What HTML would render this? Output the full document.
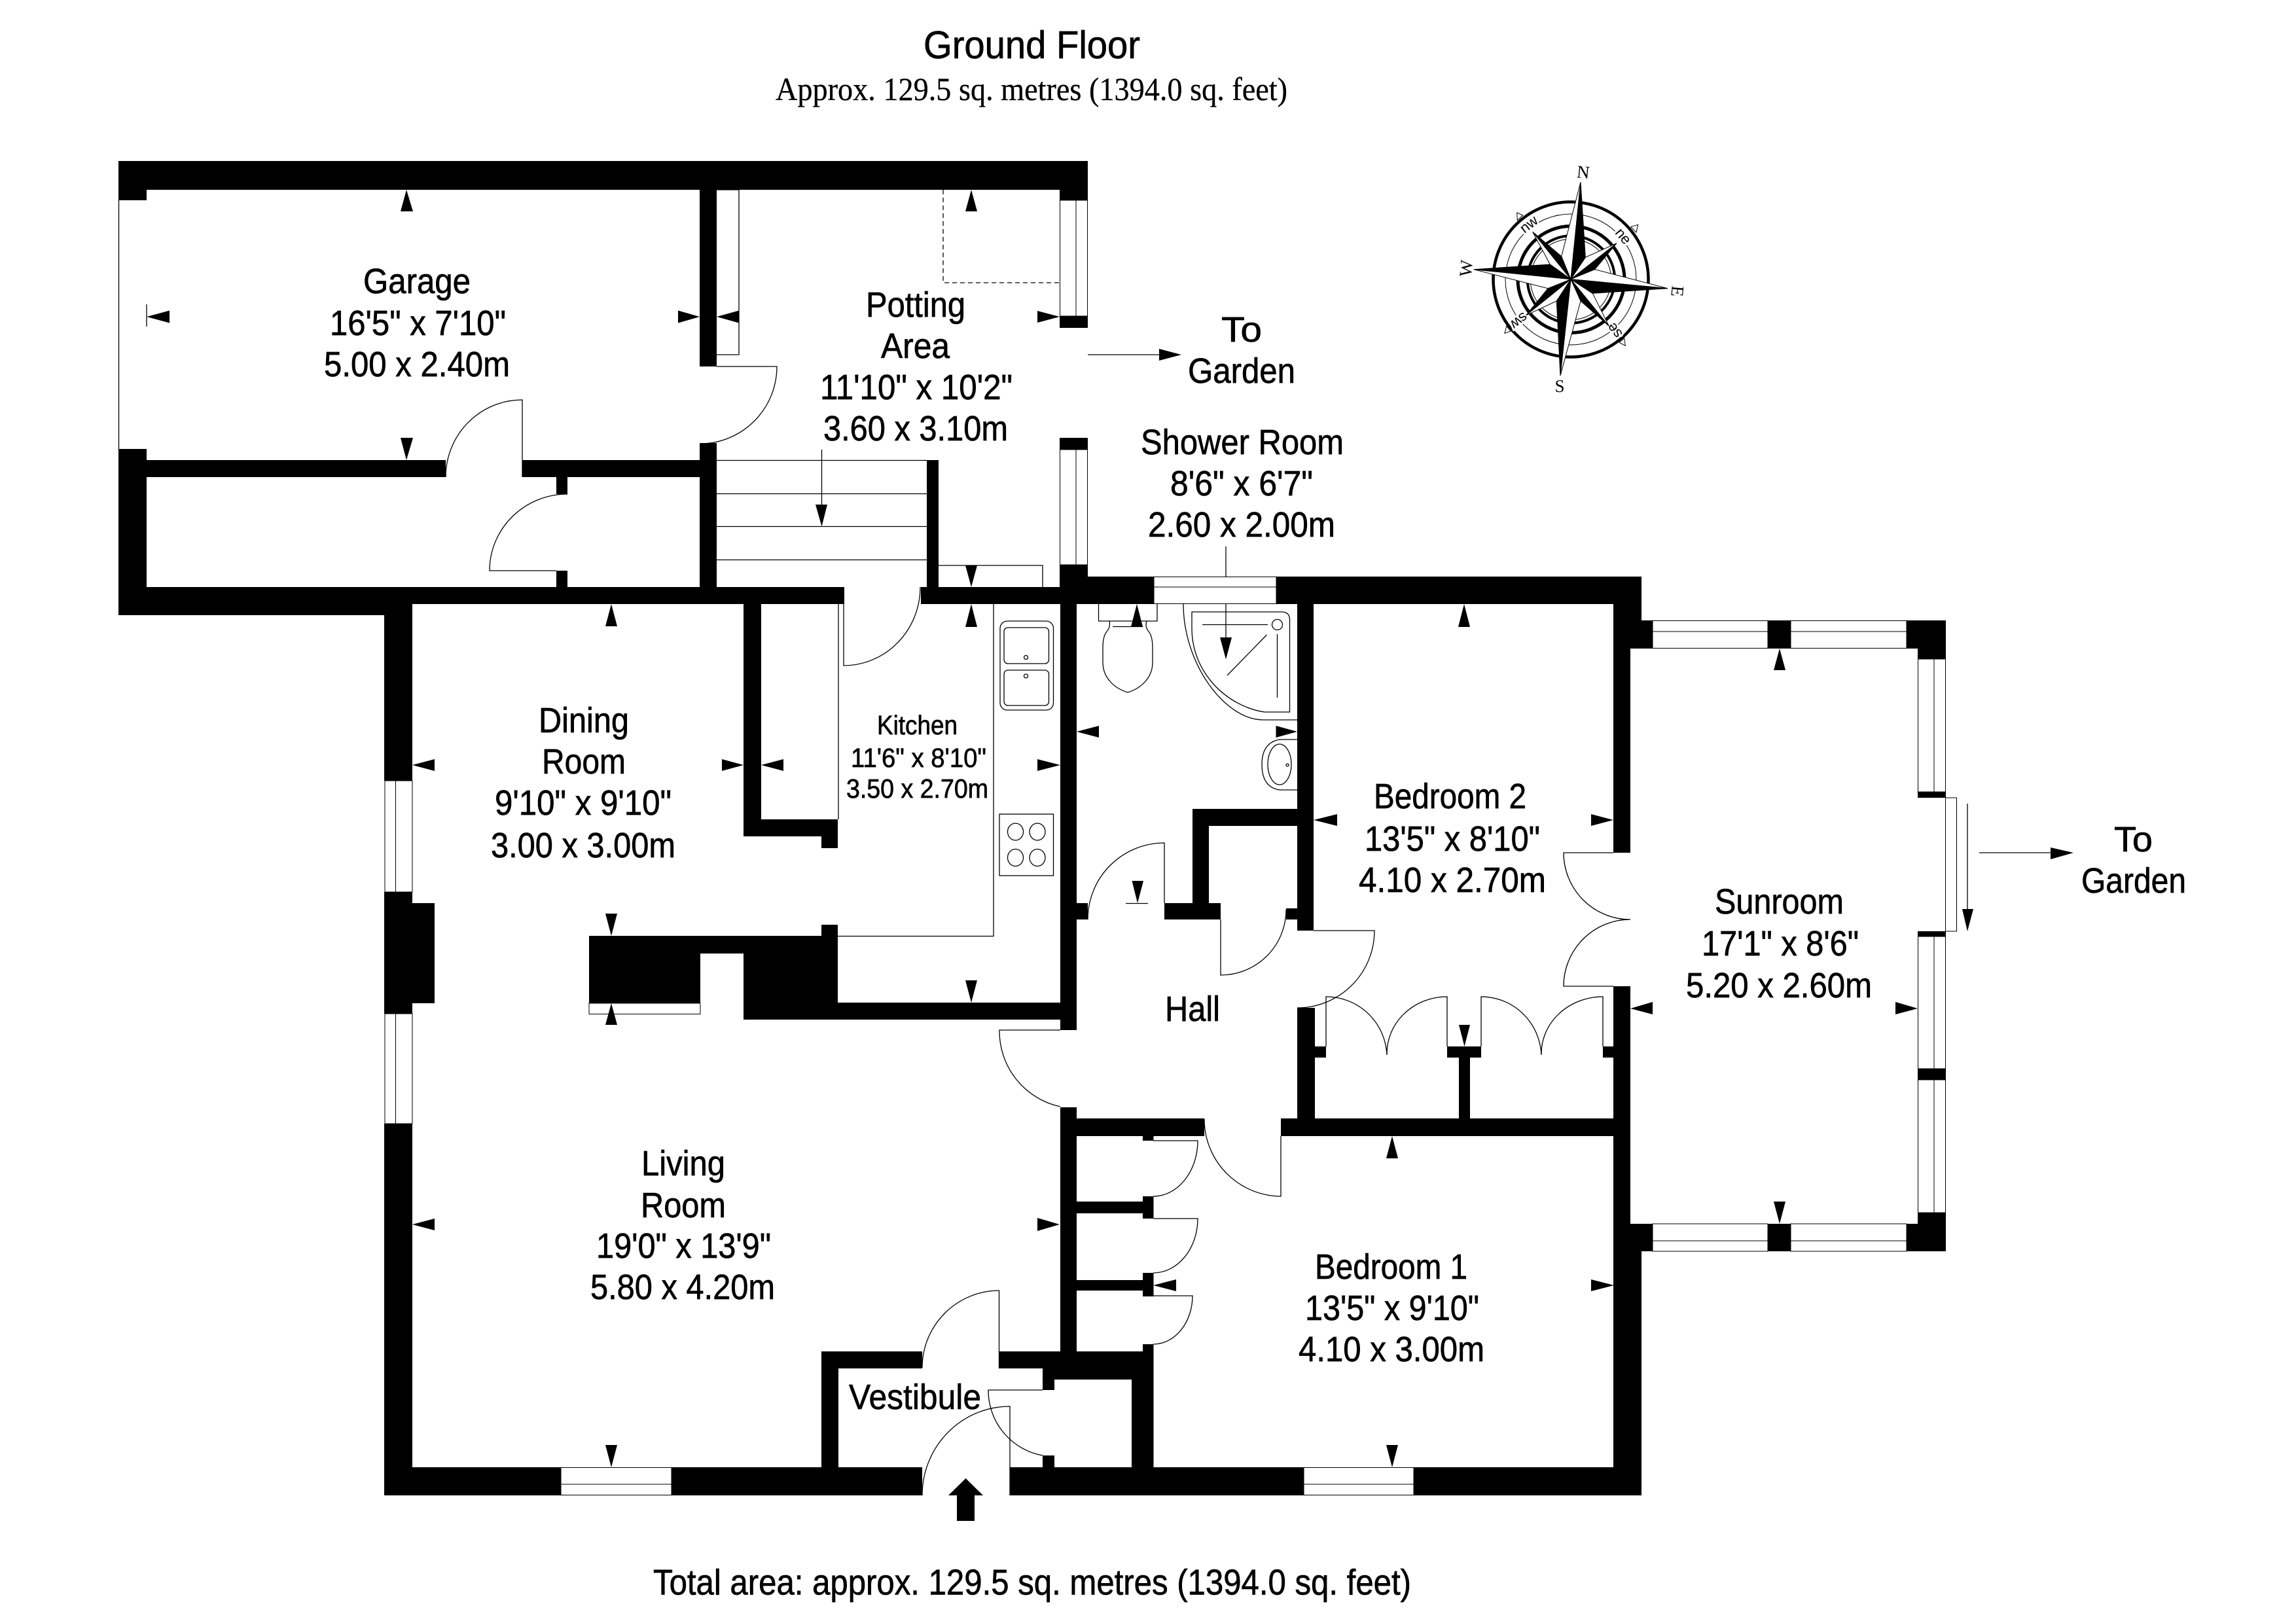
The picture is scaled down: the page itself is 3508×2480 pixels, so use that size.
<!DOCTYPE html>
<html><head><meta charset="utf-8"><title>Ground Floor Plan</title>
<style>
html,body{margin:0;padding:0;background:#fff}
svg{display:block}
text{font-family:"Liberation Sans",sans-serif;fill:#000}
.l{fill:none;stroke:#000;stroke-width:1.3}
.w{fill:#fff;stroke:#000;stroke-width:1.3}
.t{font-size:54px}
.k{font-size:41px}
</style></head><body>
<svg width="3508" height="2480" viewBox="0 0 3508 2480" xmlns="http://www.w3.org/2000/svg">
<rect width="3508" height="2480" fill="#fff"/>

<!-- thin lines beneath walls -->
<g class="l">
<path d="M181.5,306V686"/>
<path d="M1095,290H1129V542H1095"/>
<path d="M1441,290V432H1619" stroke-dasharray="7 5"/>
<path d="M1095,703.5H1416M1095,754.5H1416M1095,804.5H1416M1095,855.5H1416"/>
<path d="M1434,864H1593V897"/>
<path d="M1281,923V1252M1280,1430.5H1518V923"/>
<!-- doors -->
<path d="M798,729V611A117,118 0 0 0 681,729"/>
<path d="M850,872H748A119,117 0 0 1 867,755"/>
<path d="M1095,560H1187A118,118 0 0 1 1069,678"/>
<path d="M1289,923V1017A117,120 0 0 0 1406,897"/>
<path d="M1779,1380V1288A117,117 0 0 0 1662,1405"/>
<path d="M1865,1405V1490A100,100 0 0 0 1965,1390"/>
<path d="M2007,1422H2100A118,118 0 0 1 1982,1540"/>
<path d="M1620,1574H1527A118,118 0 0 0 1620,1691"/>
<path d="M1957,1736V1828A118,118 0 0 1 1840,1710"/>
<path d="M1762,1743H1830A68,85 0 0 1 1762,1828"/>
<path d="M1762,1862H1830A68,83 0 0 1 1762,1945"/>
<path d="M1762,1980H1822A60,74 0 0 1 1762,2054"/>
<path d="M2026,1599V1523A93,93 0 0 1 2119,1612A92,87 0 0 1 2211,1523V1599"/>
<path d="M2263,1599V1523A92,93 0 0 1 2355,1612A94,87 0 0 1 2449,1523V1599"/>
<path d="M2465,1303H2389A102,102 0 0 0 2491,1405A102,102 0 0 0 2389,1507H2465"/>
<path d="M1526.5,2091V1972A118,118 0 0 0 1409,2090"/>
<path d="M1593,2124H1510A101,101 0 0 0 1593,2224"/>
<path d="M1543,2285V2149A134,136 0 0 0 1409,2285"/>
<!-- arrow shafts -->
<path d="M1662,542H1775"/>
<path d="M1255.5,687V775"/>
<path d="M3024,1303H3140"/>
<path d="M3006,1228V1395"/>
<path d="M1873,835V980"/>
<!-- garage tick -->
<path d="M224,465V499"/>
<path d="M1720,1380.5H1754"/>
<!-- WC -->
<path d="M1678.5,923V949H1768V923"/>
<path d="M1695,949Q1697,958 1691,965Q1685,972 1685,990V1012C1685,1036 1703,1052 1723,1058C1743,1052 1761,1036 1761,1012V990Q1761,972 1755,965Q1749,958 1752,949M1700,957.5H1746"/>
<!-- Shower -->
<path d="M1808,923C1808,1015 1872,1100 1930,1100H1982"/>
<path d="M1821,935H1958Q1970.5,935 1970.5,947V1088H1932C1877,1080 1821,1030 1821,960Z"/>
<circle cx="1951.5" cy="954.5" r="8"/>
<path d="M1837,954.5H1937M1951.5,969V1066M1935.5,970L1875,1032"/>
<!-- basin -->
<path d="M1982,1130H1955Q1928,1135 1928,1168Q1928,1203 1955,1207H1982"/>
<ellipse cx="1955" cy="1168" rx="18" ry="31"/>
<circle cx="1967" cy="1169" r="2"/>
<!-- sink -->
<rect x="1528" y="949" width="81.5" height="136" rx="11"/>
<rect x="1534" y="959" width="68.5" height="55" rx="6"/>
<rect x="1534" y="1024" width="68.5" height="54" rx="6"/>
<circle cx="1567.5" cy="1004.5" r="3"/>
<circle cx="1567.5" cy="1033" r="3"/>
<!-- hob -->
<rect x="1527" y="1244" width="82.5" height="94"/>
<ellipse cx="1551.5" cy="1271" rx="12" ry="13"/>
<ellipse cx="1585" cy="1271" rx="12" ry="13"/>
<ellipse cx="1551.5" cy="1310.5" rx="12" ry="13"/>
<ellipse cx="1585" cy="1310.5" rx="12" ry="13"/>
</g>

<!-- walls -->
<g fill="#000" shape-rendering="crispEdges">
<rect x="181" y="246" width="1481" height="44"/>
<rect x="181" y="290" width="43" height="16"/>
<rect x="1619" y="290" width="43" height="16"/>
<rect x="1619" y="483" width="43" height="18"/>
<rect x="1619" y="669" width="43" height="18"/>
<rect x="1619" y="863" width="43" height="60"/>
<rect x="181" y="686" width="43" height="254"/>
<rect x="181" y="897" width="406" height="43"/>
<rect x="587" y="897" width="703" height="26"/>
<rect x="224" y="703" width="457" height="26"/>
<rect x="798" y="703" width="271" height="26"/>
<rect x="850" y="729" width="17" height="26"/>
<rect x="850" y="872" width="17" height="25"/>
<rect x="1069" y="290" width="26" height="270"/>
<rect x="1069" y="677" width="26" height="220"/>
<rect x="1416" y="703" width="18" height="194"/>
<rect x="1407" y="897" width="212" height="26"/>
<rect x="1619" y="881" width="144" height="42"/>
<rect x="1950" y="881" width="558" height="42"/>
<rect x="1136" y="923" width="27" height="355"/>
<rect x="1136" y="1252" width="144" height="26"/>
<rect x="1255" y="1278" width="25" height="18"/>
<rect x="1255" y="1413" width="25" height="17"/>
<rect x="900" y="1430" width="380" height="27"/>
<rect x="900" y="1457" width="170" height="76"/>
<rect x="1136" y="1457" width="144" height="101"/>
<rect x="1280" y="1532" width="340" height="26"/>
<rect x="1620" y="923" width="25" height="651"/>
<rect x="1645" y="1380" width="17" height="25"/>
<rect x="1779" y="1380" width="86" height="25"/>
<rect x="1822" y="1236" width="25" height="144"/>
<rect x="1822" y="1236" width="160" height="26"/>
<rect x="1982" y="923" width="25" height="499"/>
<rect x="1965" y="1388" width="17" height="17"/>
<rect x="1982" y="1540" width="27" height="196"/>
<rect x="2009" y="1599" width="17" height="17"/>
<rect x="2211" y="1599" width="52" height="17"/>
<rect x="2229" y="1616" width="17" height="93"/>
<rect x="2449" y="1599" width="17" height="17"/>
<rect x="1645" y="1709" width="195" height="27"/>
<rect x="1957" y="1709" width="509" height="27"/>
<rect x="2465" y="881" width="26" height="422"/>
<rect x="2491" y="881" width="17" height="67"/>
<rect x="2491" y="948" width="34" height="43"/>
<rect x="2701" y="948" width="35" height="43"/>
<rect x="2913" y="948" width="60" height="43"/>
<rect x="2930" y="991" width="43" height="16"/>
<rect x="2930" y="1210" width="43" height="9"/>
<rect x="2930" y="1423" width="43" height="8"/>
<rect x="2930" y="1633" width="43" height="17"/>
<rect x="2930" y="1853" width="43" height="17"/>
<rect x="2913" y="1870" width="60" height="42"/>
<rect x="2701" y="1870" width="35" height="42"/>
<rect x="2465" y="1507" width="26" height="778"/>
<rect x="2491" y="1870" width="34" height="42"/>
<rect x="2491" y="1912" width="17" height="373"/>
<rect x="587" y="923" width="43" height="270"/>
<rect x="587" y="1363" width="43" height="186"/>
<rect x="630" y="1380" width="34" height="153"/>
<rect x="587" y="1717" width="43" height="568"/>
<rect x="587" y="2242" width="270" height="43"/>
<rect x="1026" y="2242" width="383" height="43"/>
<rect x="1543" y="2242" width="449" height="43"/>
<rect x="2160" y="2242" width="348" height="43"/>
<rect x="1620" y="1692" width="25" height="373"/>
<rect x="1746" y="1736" width="16.5" height="7"/>
<rect x="1746" y="1828" width="16.5" height="34"/>
<rect x="1746" y="1945" width="16.5" height="36"/>
<rect x="1746" y="2054" width="16.5" height="54"/>
<rect x="1645" y="1836" width="101" height="18"/>
<rect x="1645" y="1956" width="101" height="16"/>
<rect x="1255" y="2065" width="154" height="26"/>
<rect x="1526.5" y="2065" width="236" height="26"/>
<rect x="1593" y="2091" width="169.5" height="17"/>
<rect x="1593" y="2108" width="18" height="16"/>
<rect x="1593" y="2224" width="18" height="18"/>
<rect x="1729" y="2108" width="33.5" height="134"/>
<rect x="1255" y="2091" width="26" height="151"/>
</g>

<!-- windows -->
<g class="w" shape-rendering="crispEdges">
<rect x="1619.5" y="306" width="42" height="177"/>
<rect x="1619.5" y="687" width="42" height="176"/>
<rect x="1763" y="881.5" width="187" height="41"/>
<rect x="588" y="1193" width="42" height="170"/>
<rect x="588" y="1549" width="42" height="168"/>
<rect x="900" y="1533" width="170" height="16.5"/>
<rect x="857" y="2242.5" width="169" height="42"/>
<rect x="1992" y="2242.5" width="168" height="42"/>
<rect x="2525" y="948.5" width="176" height="42"/>
<rect x="2736" y="948.5" width="177" height="42"/>
<rect x="2525" y="1870" width="176" height="42"/>
<rect x="2736" y="1870" width="177" height="42"/>
<rect x="2930.5" y="1007" width="42" height="203"/>
<rect x="2972.5" y="1219" width="17" height="204"/>
<rect x="2930.5" y="1431" width="42" height="202"/>
<rect x="2930.5" y="1650" width="42" height="203"/>
</g>
<g class="l" shape-rendering="crispEdges">
<path d="M1644,306V483M1644,687V863M1763,897H1950M604.5,1193V1363M604.5,1549V1717M857,2268H1026M1992,2268H2160M2525,965H2701M2736,965H2913M2525,1896H2701M2736,1896H2913M2955,1007V1210M2955,1431V1633M2955,1650V1853"/>
</g>

<!-- arrowheads -->
<g fill="#000">
<polygon points="621,290 612,323 631,323"/>
<polygon points="621,703 612,669 631,669"/>
<polygon points="224,484 259,474.5 259,493.5"/>
<polygon points="1069,484 1036,474.5 1036,493.5"/>
<polygon points="1095,484 1129,474.5 1129,493.5"/>
<polygon points="934,923 925,957 943,957"/>
<polygon points="1484,290 1475,323 1493,323"/>
<polygon points="1619,484 1585,475 1585,493"/>
<polygon points="1805,542 1771,533 1771,551"/>
<polygon points="1255.5,804.5 1246,771 1264,771"/>
<polygon points="1484,897 1475,864 1493,864"/>
<polygon points="1484,923 1475,958 1493,958"/>
<polygon points="1737,923 1728,957.5 1746,957.5"/>
<polygon points="1873,1007.5 1864,974 1882,974"/>
<polygon points="1645,1118 1679,1109 1679,1127"/>
<polygon points="1982,1118 1949.5,1109 1949.5,1127"/>
<polygon points="2237,923 2228,958 2246,958"/>
<polygon points="1738,1380 1729.5,1346 1747,1346"/>
<polygon points="630,1169 664,1160 664,1178"/>
<polygon points="1136,1169 1103,1160 1103,1178"/>
<polygon points="1163,1169 1197,1160 1197,1178"/>
<polygon points="1620,1169 1585,1160 1585,1178"/>
<polygon points="934,1430 925,1396 943,1396"/>
<polygon points="934,1533 925,1566 943,1566"/>
<polygon points="1484,1532 1475,1498 1493,1498"/>
<polygon points="2007,1253 2043,1244 2043,1262"/>
<polygon points="2465,1253 2431,1244 2431,1262"/>
<polygon points="2237.5,1599 2229,1566 2246,1566"/>
<polygon points="630,1871 664,1862 664,1880"/>
<polygon points="1619,1871 1585,1861 1585,1881"/>
<polygon points="1762,1964 1797,1955 1797,1973"/>
<polygon points="2466,1964 2431,1955 2431,1973"/>
<polygon points="2127,1736 2118,1770 2136,1770"/>
<polygon points="2127,2242 2118,2208 2136,2208"/>
<polygon points="934,2242 925,2208 943,2208"/>
<polygon points="2719,991 2710,1024 2728,1024"/>
<polygon points="2719,1870 2710,1836 2728,1836"/>
<polygon points="2491,1541 2525,1531 2525,1550"/>
<polygon points="2930,1541 2896,1531 2896,1550"/>
<polygon points="3168,1303 3133,1295 3133,1313"/>
<polygon points="3006,1423 2998,1389 3015,1389"/>
<polygon points="1475.5,2259 1502,2285 1489,2285 1489,2324 1462,2324 1462,2285 1449,2285"/>
</g>

<!-- labels -->
<g stroke="#000" stroke-width=".7">
<text x="1411" y="89" style="font-size:59px" textLength="331" lengthAdjust="spacingAndGlyphs">Ground Floor</text>
<text x="1185" y="153" style="font-size:50px;font-family:'Liberation Serif',serif" textLength="782" lengthAdjust="spacingAndGlyphs" stroke-width=".3">Approx. 129.5 sq. metres (1394.0 sq. feet)</text>
<text x="998" y="2436.5" style="font-size:55px" textLength="1158" lengthAdjust="spacingAndGlyphs">Total area: approx. 129.5 sq. metres (1394.0 sq. feet)</text>

<text class="t" x="555" y="448" textLength="164" lengthAdjust="spacingAndGlyphs">Garage</text>
<text class="t" x="504" y="512" textLength="269" lengthAdjust="spacingAndGlyphs">16'5" x 7'10"</text>
<text class="t" x="495" y="575" textLength="284" lengthAdjust="spacingAndGlyphs">5.00 x 2.40m</text>

<text class="t" x="1323" y="484" textLength="152" lengthAdjust="spacingAndGlyphs">Potting</text>
<text class="t" x="1346" y="547" textLength="105" lengthAdjust="spacingAndGlyphs">Area</text>
<text class="t" x="1253" y="610" textLength="294" lengthAdjust="spacingAndGlyphs">11'10" x 10'2"</text>
<text class="t" x="1258" y="673" textLength="282" lengthAdjust="spacingAndGlyphs">3.60 x 3.10m</text>

<text class="t" x="1866" y="522" textLength="62" lengthAdjust="spacingAndGlyphs">To</text>
<text class="t" x="1815" y="585" textLength="164" lengthAdjust="spacingAndGlyphs">Garden</text>

<text class="t" x="1743" y="694" textLength="310" lengthAdjust="spacingAndGlyphs">Shower Room</text>
<text class="t" x="1788" y="757" textLength="218" lengthAdjust="spacingAndGlyphs">8'6" x 6'7"</text>
<text class="t" x="1754" y="820" textLength="286" lengthAdjust="spacingAndGlyphs">2.60 x 2.00m</text>

<text class="k" x="1340" y="1122" textLength="123" lengthAdjust="spacingAndGlyphs">Kitchen</text>
<text class="k" x="1300" y="1172" textLength="207" lengthAdjust="spacingAndGlyphs">11'6" x 8'10"</text>
<text class="k" x="1293" y="1219" textLength="217" lengthAdjust="spacingAndGlyphs">3.50 x 2.70m</text>

<text class="t" x="823" y="1119" textLength="138" lengthAdjust="spacingAndGlyphs">Dining</text>
<text class="t" x="828" y="1182" textLength="128" lengthAdjust="spacingAndGlyphs">Room</text>
<text class="t" x="756" y="1245" textLength="270" lengthAdjust="spacingAndGlyphs">9'10" x 9'10"</text>
<text class="t" x="750" y="1310" textLength="282" lengthAdjust="spacingAndGlyphs">3.00 x 3.00m</text>

<text class="t" x="980" y="1796" textLength="128" lengthAdjust="spacingAndGlyphs">Living</text>
<text class="t" x="979" y="1860" textLength="130" lengthAdjust="spacingAndGlyphs">Room</text>
<text class="t" x="911" y="1922" textLength="267" lengthAdjust="spacingAndGlyphs">19'0" x 13'9"</text>
<text class="t" x="902" y="1985" textLength="282" lengthAdjust="spacingAndGlyphs">5.80 x 4.20m</text>

<text class="t" x="1780" y="1560" textLength="84" lengthAdjust="spacingAndGlyphs">Hall</text>
<text class="t" x="1297" y="2153" textLength="202" lengthAdjust="spacingAndGlyphs">Vestibule</text>

<text class="t" x="2099" y="1235" textLength="233" lengthAdjust="spacingAndGlyphs">Bedroom 2</text>
<text class="t" x="2085" y="1300" textLength="268" lengthAdjust="spacingAndGlyphs">13'5" x 8'10"</text>
<text class="t" x="2076" y="1363" textLength="286" lengthAdjust="spacingAndGlyphs">4.10 x 2.70m</text>

<text class="t" x="2009" y="1954" textLength="233" lengthAdjust="spacingAndGlyphs">Bedroom 1</text>
<text class="t" x="1994" y="2017" textLength="266" lengthAdjust="spacingAndGlyphs">13'5" x 9'10"</text>
<text class="t" x="1984" y="2080" textLength="284" lengthAdjust="spacingAndGlyphs">4.10 x 3.00m</text>

<text class="t" x="2620" y="1396" textLength="197" lengthAdjust="spacingAndGlyphs">Sunroom</text>
<text class="t" x="2600" y="1460" textLength="240" lengthAdjust="spacingAndGlyphs">17'1" x 8'6"</text>
<text class="t" x="2576" y="1524" textLength="284" lengthAdjust="spacingAndGlyphs">5.20 x 2.60m</text>

<text class="t" x="3230" y="1301" textLength="59" lengthAdjust="spacingAndGlyphs">To</text>
<text class="t" x="3180" y="1364" textLength="160" lengthAdjust="spacingAndGlyphs">Garden</text>
</g>

<!-- compass -->
<g>
<g fill="none" stroke="#000">
<circle cx="2400" cy="427" r="118.5" stroke-width="4.5"/>
<circle cx="2400" cy="427" r="100" stroke-width="1"/>
<circle cx="2400.5" cy="427" r="81.5" stroke-width="5"/>
<circle cx="2400.5" cy="427" r="66.7" stroke-width="4"/>
<circle cx="2400" cy="427" r="61.7" stroke-width="1"/>
</g>
<g fill="#fff" stroke="#000" stroke-width="1">
<polygon points="2502.7,343.3 2491.7,346.7 2500,355"/>
<polygon points="2317.7,325 2326.7,329 2318.3,336.7"/>
<polygon points="2483.3,528.3 2474,523.3 2481.7,516.7"/>
<polygon points="2299,509.3 2308.3,506 2301.7,498.3"/>
</g>
<g text-anchor="middle" stroke="#fff" stroke-width="6" paint-order="stroke">
<text x="2336" y="350" transform="rotate(-38 2336 343)" style="font-size:22px">nw</text>
<text x="2480" y="368" transform="rotate(50 2480 361)" style="font-size:22px">ne</text>
<text x="2467" y="512" transform="rotate(232 2467 505)" style="font-size:22px">se</text>
<text x="2321" y="497" transform="rotate(142 2321 490)" style="font-size:22px">sw</text>
</g>
<g text-anchor="middle">
<text x="2419" y="272" transform="rotate(5 2419 263)" style="font-size:27px;font-family:'Liberation Serif',serif">N</text>
<text x="2563" y="454" transform="rotate(95 2563 445)" style="font-size:27px;font-family:'Liberation Serif',serif">E</text>
<text x="2383" y="599" style="font-size:27px;font-family:'Liberation Serif',serif">S</text>
<text x="2240" y="419" transform="rotate(-85 2240 410)" style="font-size:27px;font-family:'Liberation Serif',serif">W</text>
</g>
<!-- secondary star -->
<g fill="#fff" stroke="#000" stroke-width="1">
<polygon points="2400,426.7 2422.3,393.3 2470,371.7"/>
<polygon points="2400,426.7 2433.3,448.3 2458.3,498.3"/>
<polygon points="2400,426.7 2378.3,460 2331.7,481.7"/>
<polygon points="2400,426.7 2368.3,404 2341.7,354.3"/>
</g>
<g fill="#000" stroke="#000" stroke-width="1">
<polygon points="2400,426.7 2436.7,411.7 2470,371.7"/>
<polygon points="2400,426.7 2415,460 2458.3,498.3"/>
<polygon points="2400,426.7 2365,440.7 2331.7,481.7"/>
<polygon points="2400,426.7 2385.7,391.7 2341.7,354.3"/>
</g>
<!-- main star -->
<g fill="#fff" stroke="#000" stroke-width="1">
<polygon points="2400,426.7 2385.7,391.7 2415,278.3"/>
<polygon points="2400,426.7 2436.7,411.7 2548,440.7"/>
<polygon points="2400,426.7 2415,460 2384,574"/>
<polygon points="2400,426.7 2365,440.7 2251.7,411.7"/>
</g>
<g fill="#000" stroke="#000" stroke-width="1">
<polygon points="2400,426.7 2422.3,393.3 2415,278.3"/>
<polygon points="2400,426.7 2433.3,448.3 2548,440.7"/>
<polygon points="2400,426.7 2378.3,460 2384,574"/>
<polygon points="2400,426.7 2368.3,404 2251.7,411.7"/>
</g>
</g>
</svg>
</body></html>
